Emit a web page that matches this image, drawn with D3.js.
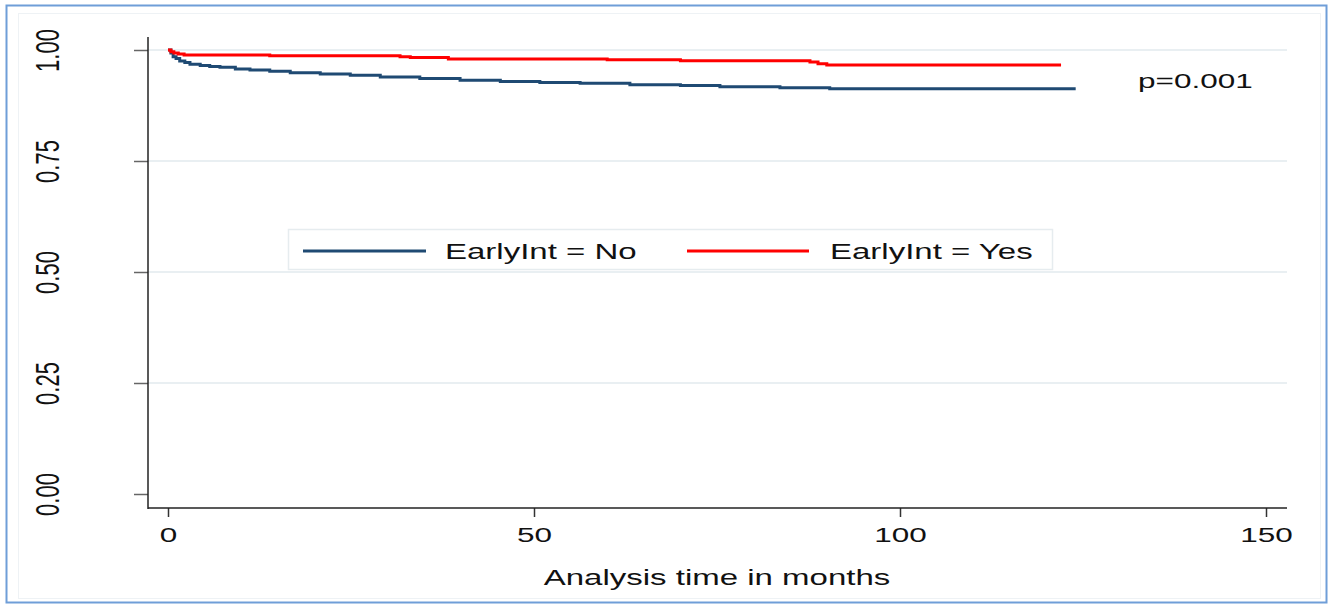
<!DOCTYPE html>
<html>
<head>
<meta charset="utf-8">
<script src="https://cdn.jsdelivr.net/npm/d3@7"></script>
<style>
  body { margin: 0; background: #fff; }
  text { font-family: "Liberation Sans", Arial, sans-serif; fill: #111; }
</style>
</head>
<body>
<div id="canvas"></div>
<script>
// data

const noTime = [0, 0.4, 0.7, 1.1, 1.6, 2.3, 3.0, 4.4, 5.7, 7.1, 9.2, 11.2, 13.9, 16.7, 20.8, 24.9, 29, 34.4, 39.9, 45.4, 50.8, 56.3, 63.1, 70, 75.4, 83.6, 90.4, 124];
const noSurv = [1, 0.993, 0.985, 0.981, 0.975, 0.972, 0.968, 0.965, 0.963, 0.961, 0.957, 0.955, 0.952, 0.949, 0.946, 0.943, 0.939, 0.936, 0.932, 0.929, 0.927, 0.925, 0.922, 0.920, 0.917, 0.915, 0.913, 0.913];
const yesTime = [0, 0.4, 0.8, 1.4, 2.2, 13.9, 31.7, 33.1, 38.3, 60, 70, 87.7, 88.8, 90, 122];
const yesSurv = [1, 0.996, 0.993, 0.991, 0.989, 0.987, 0.985, 0.983, 0.980, 0.978, 0.976, 0.973, 0.969, 0.966, 0.966];

const xTicks = [0, 50, 100, 150];
const yTicks = [0, 0.25, 0.5, 0.75, 1];
const legendLabels = ["EarlyInt = No", "EarlyInt = Yes"];
const pText = "p=0.001";

// constants
const width = 1330;
const height = 605;
const blue = "#1f4a73";
const red = "#ff0000";
const stretch = 1.5;  // the original picture is widened horizontally

const x = d3.scaleLinear().domain([0, 150]).range([168, 1266]);
const y = d3.scaleLinear().domain([0, 1]).range([494, 50]);

const svg = d3.select('#canvas')
    .append('svg').attr('width', width).attr('height', height);

// text drawn with horizontal stretch
function wideText(g, tx, ty, str, size, anchor) {
  return g.append('text')
      .attr('transform', `translate(${tx},${ty}) scale(${stretch},1)`)
      .attr('text-anchor', anchor || 'start')
      .attr('font-size', size)
      .text(str);
}

// frames
svg.append('rect')
    .attr('x', 6.5).attr('y', 5.5).attr('width', 1320).attr('height', 597)
    .attr('fill', 'none').attr('stroke', '#6f9ed8').attr('stroke-width', 2);
svg.append('rect')
    .attr('x', 18.5).attr('y', 13.5).attr('width', 1302).attr('height', 585)
    .attr('fill', 'none').attr('stroke', '#eef2f5').attr('stroke-width', 1);

// gridlines
svg.append('g').selectAll('line').data(yTicks.filter(d => d > 0))
    .join('line')
    .attr('x1', 148).attr('x2', 1287)
    .attr('y1', d => y(d)).attr('y2', d => y(d))
    .attr('stroke', '#e9eff2').attr('stroke-width', 2);

// axes
const yAxis = d3.axisLeft(y).tickValues(yTicks).tickSize(14).tickFormat(d3.format('.2f'));
const gy = svg.append('g').attr('transform', 'translate(148,0)').call(yAxis);
gy.select('.domain').remove();
gy.selectAll('.tick line').attr('stroke', '#666').attr('stroke-width', 1.5);
gy.selectAll('.tick text')
    .attr('x', 0).attr('y', 0).attr('dy', '0.36em')
    .attr('text-anchor', 'middle')
    .attr('transform', `translate(-101,0) scale(${stretch},1) rotate(-90)`)
    .attr('font-size', 22).style('font-family', '"Liberation Sans", Arial, sans-serif').attr('fill', '#111');

svg.append('line').attr('x1', 148).attr('x2', 148).attr('y1', 37).attr('y2', 509)
    .attr('stroke', '#222').attr('stroke-width', 1.5);

const xAxis = d3.axisBottom(x).tickValues(xTicks).tickSize(9).tickFormat(d3.format('d'));
const gx = svg.append('g').attr('transform', 'translate(0,508)').call(xAxis);
gx.select('.domain').remove();
gx.selectAll('.tick line').attr('stroke', '#333').attr('stroke-width', 1.5);
gx.selectAll('.tick text')
    .attr('y', 0).attr('dy', null)
    .attr('transform', `translate(0,34) scale(${stretch},1)`)
    .attr('font-size', 21).style('font-family', '"Liberation Sans", Arial, sans-serif').attr('fill', '#111');

svg.append('line').attr('x1', 148).attr('x2', 1287).attr('y1', 508).attr('y2', 508)
    .attr('stroke', '#222').attr('stroke-width', 1.5);

wideText(svg, 717, 585, 'Analysis time in months', 22, 'middle');

// survival curves
const line = d3.line().curve(d3.curveStepAfter).x(d => x(d[0])).y(d => y(d[1]));
const noData = noTime.map((t, i) => [t, noSurv[i]]);
const yesData = yesTime.map((t, i) => [t, yesSurv[i]]);

svg.append('path').datum(noData).attr('d', line)
    .attr('fill', 'none').attr('stroke', blue).attr('stroke-width', 3);
svg.append('path').datum(yesData).attr('d', line)
    .attr('fill', 'none').attr('stroke', red).attr('stroke-width', 3);

// legend
const lg = svg.append('g');
lg.append('rect').attr('x', 288.5).attr('y', 229.5).attr('width', 764).attr('height', 40)
    .attr('fill', '#fff').attr('stroke', '#e6ecef').attr('stroke-width', 1.5);
const legendItems = [
  { x0: 303, x1: 426, tx: 445, color: blue, label: legendLabels[0] },
  { x0: 687, x1: 809, tx: 830, color: red, label: legendLabels[1] }
];
legendItems.forEach(d => {
  lg.append('line').attr('x1', d.x0).attr('x2', d.x1).attr('y1', 251).attr('y2', 251)
      .attr('stroke', d.color).attr('stroke-width', 3);
  wideText(lg, d.tx, 259, d.label, 22);
});

wideText(svg, 1138, 88, pText, 21);
</script>
</body>
</html>
